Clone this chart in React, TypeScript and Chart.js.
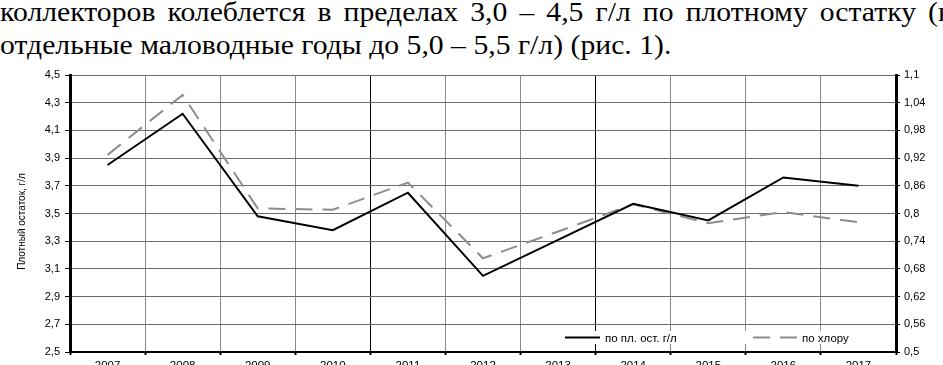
import React, { useEffect, useRef } from 'react';
import { Chart, registerables } from 'chart.js';

Chart.register(...registerables);

const years = ['2007', '2008', '2009', '2010', '2011', '2012', '2013', '2014', '2015', '2016', '2017'];
const dryResidue = [3.85, 4.22, 3.48, 3.38, 3.65, 3.05, 3.31, 3.57, 3.45, 3.76, 3.7];
const chloride = [0.927, 1.057, 0.811, 0.808, 0.867, 0.703, 0.761, 0.82, 0.779, 0.803, 0.781];
const leftTicks = [2.5, 2.7, 2.9, 3.1, 3.3, 3.5, 3.7, 3.9, 4.1, 4.3, 4.5];
const rightTicks = [0.5, 0.56, 0.62, 0.68, 0.74, 0.8, 0.86, 0.92, 0.98, 1.04, 1.1];
const textLine1 = 'коллекторов колеблется в пределах 3,0 – 4,5 г/л по плотному остатку (в';
const textLine2 = 'отдельные маловодные годы до 5,0 – 5,5 г/л) (рис. 1).';
const axisTitle = 'Плотный остаток, г/л';
const seriesLabels = ['по пл. ост. г/л', 'по хлору'];
const darkGridIdx = [4, 7];

const fmt = (v: number) => String(Number(v.toFixed(2))).replace('.', ',');
const SANS = "'Liberation Sans', Arial, sans-serif";
const SERIF = "'Liberation Serif', 'DejaVu Serif', serif";
const CANVAS_TOP = 60;
const TEXT_SCALE = 1.1;

export default function App() {
  const ref = useRef<HTMLCanvasElement | null>(null);
  useEffect(() => {
    if (!ref.current) return;
    const extras = {
      id: 'extras',
      afterDatasetsDraw(chart: any) {
        const { ctx, chartArea } = chart;
        ctx.save();
        const by = chartArea.bottom - 21;
        ctx.fillStyle = '#fff';
        ctx.fillRect(chartArea.left + 462, by, 335, 13);
        const cy = by + 6.5;
        ctx.font = `11.5px ${SANS}`;
        ctx.textBaseline = 'middle';
        ctx.fillStyle = '#000';
        ctx.strokeStyle = '#000';
        ctx.lineWidth = 2;
        ctx.beginPath();
        ctx.moveTo(chartArea.left + 495, cy);
        ctx.lineTo(chartArea.left + 530, cy);
        ctx.stroke();
        ctx.fillText(seriesLabels[0], chartArea.left + 535, cy + 1);
        ctx.strokeStyle = '#8c8c8c';
        ctx.setLineDash([17, 10]);
        ctx.beginPath();
        ctx.moveTo(chartArea.left + 683, cy);
        ctx.lineTo(chartArea.left + 727, cy);
        ctx.stroke();
        ctx.setLineDash([]);
        ctx.fillText(seriesLabels[1], chartArea.left + 732, cy + 1);
        ctx.restore();
      },
      afterDraw(chart: any) {
        const { ctx, chartArea } = chart;
        ctx.save();
        ctx.translate(22, (chartArea.top + chartArea.bottom) / 2 + 8);
        ctx.rotate(-Math.PI / 2);
        ctx.font = `10px 'Liberation Sans Narrow', 'Liberation Sans', Arial, sans-serif`;
        ctx.fillStyle = '#000';
        ctx.textAlign = 'center';
        ctx.textBaseline = 'middle';
        ctx.fillText(axisTitle, 0, 0);
        ctx.restore();
      },
    };
    const chart = new Chart(ref.current, {
      type: 'line',
      data: {
        labels: years,
        datasets: [
          {
            label: seriesLabels[0],
            data: dryResidue,
            yAxisID: 'y',
            borderColor: '#000',
            borderWidth: 2,
            pointRadius: 0,
            tension: 0,
          },
          {
            label: seriesLabels[1],
            data: chloride,
            yAxisID: 'y1',
            borderColor: '#8c8c8c',
            borderWidth: 2,
            borderDash: [17, 10],
            pointRadius: 0,
            tension: 0,
          },
        ],
      },
      options: {
        animation: false,
        responsive: false,
        layout: { padding: { top: 15, left: 0, right: 0, bottom: 0 } },
        plugins: { legend: { display: false }, tooltip: { enabled: false } },
        scales: {
          x: {
            offset: true,
            grid: {
              offset: true,
              color: (c: any) => (darkGridIdx.includes(c.index) ? '#000' : '#8a8a8a'),
              tickLength: 3,
              tickColor: '#000',
              tickWidth: 2,
            },
            border: { color: '#000', width: 2 },
            ticks: { color: '#000', font: { size: 11.5, family: SANS }, padding: 4, maxRotation: 0 },
            afterFit: (s: any) => { s.height = 28; },
          },
          y: {
            position: 'left',
            min: 2.5,
            max: 4.5,
            afterBuildTicks: (s: any) => { s.ticks = leftTicks.map((v) => ({ value: v })); },
            grid: { color: '#6b6b6b', tickLength: 5, tickColor: '#000' },
            border: { color: '#000', width: 3 },
            ticks: { color: '#000', font: { size: 11, family: SANS }, padding: 5, callback: (v: any) => fmt(Number(v)) },
            afterFit: (s: any) => { s.width = 70; },
          },
          y1: {
            position: 'right',
            min: 0.5,
            max: 1.1,
            afterBuildTicks: (s: any) => { s.ticks = rightTicks.map((v) => ({ value: v })); },
            grid: { drawOnChartArea: false, tickLength: 4, tickColor: '#000' },
            border: { color: '#000', width: 3 },
            ticks: { color: '#000', font: { size: 11, family: SANS }, padding: 4, callback: (v: any) => fmt(Number(v)) },
            afterFit: (s: any) => { s.width = 47; },
          },
        },
      },
      plugins: [extras],
    });
    return () => chart.destroy();
  }, []);

  return (
    <div style={{ position: 'absolute', left: 0, top: 0, width: 943, height: 365, overflow: 'hidden', background: '#fff' }}>
      <div
        style={{
          position: 'absolute',
          left: 0,
          top: -4,
          fontFamily: SERIF,
          fontSize: 27,
          lineHeight: '33px',
          color: '#000',
          transform: `scaleX(${TEXT_SCALE})`,
          transformOrigin: '0 0',
        }}
      >
        <div style={{ width: 952 / TEXT_SCALE, textAlign: 'justify', textAlignLast: 'justify' }}>{textLine1}</div>
        <div style={{ whiteSpace: 'nowrap' }}>{textLine2}</div>
      </div>
      <canvas ref={ref} width={943} height={320} style={{ position: 'absolute', left: 0, top: CANVAS_TOP, width: 943, height: 320 }} />
    </div>
  );
}
